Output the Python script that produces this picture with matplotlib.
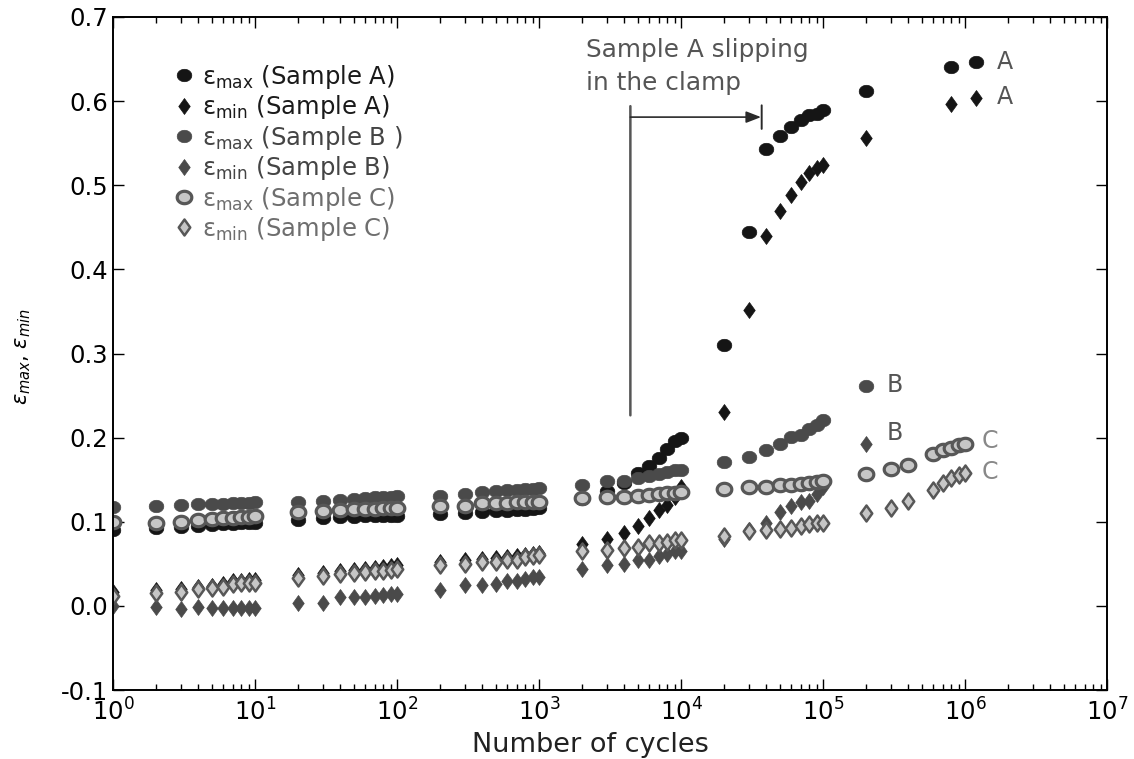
import matplotlib
matplotlib.use("Agg")
import matplotlib.pyplot as plt
import numpy as np
from matplotlib.path import Path
from matplotlib.lines import Line2D
from matplotlib.ticker import FormatStrFormatter, NullFormatter, LogFormatterSciNotation

# ---------------- data ----------------
cycles_main = [1, 2, 3, 4, 5, 6, 7, 8, 9, 10,
               20, 30, 40, 50, 60, 70, 80, 90, 100,
               200, 300, 400, 500, 600, 700, 800, 900, 1000,
               2000, 3000, 4000, 5000, 6000, 7000, 8000, 9000, 10000,
               20000, 30000, 40000, 50000, 60000, 70000, 80000, 90000, 100000]
cycles_A_tail = [2e5, 8e5, 1.2e6]
cycles_B_tail = [2e5]
cycles_C_tail = [2e5, 3e5, 4e5, 6e5, 7e5, 8e5, 9e5, 1e6]

emax_A = [0.090, 0.092, 0.094, 0.095, 0.096, 0.097, 0.097, 0.098, 0.098, 0.099,
          0.102, 0.105, 0.106, 0.106, 0.107, 0.107, 0.107, 0.107, 0.107,
          0.109, 0.110, 0.112, 0.113, 0.113, 0.114, 0.114, 0.115, 0.116,
          0.127, 0.136, 0.146, 0.158, 0.166, 0.176, 0.186, 0.196, 0.200,
          0.310, 0.445, 0.543, 0.558, 0.569, 0.577, 0.583, 0.585, 0.589,
          0.612, 0.641, 0.646]
emin_A = [0.016, 0.019, 0.020, 0.023, 0.024, 0.026, 0.029, 0.030, 0.031, 0.031,
          0.037, 0.039, 0.042, 0.043, 0.044, 0.045, 0.046, 0.047, 0.048,
          0.052, 0.054, 0.056, 0.057, 0.058, 0.059, 0.061, 0.062, 0.063,
          0.073, 0.079, 0.087, 0.095, 0.104, 0.114, 0.120, 0.129, 0.141,
          0.230, 0.352, 0.440, 0.469, 0.489, 0.504, 0.514, 0.520, 0.524,
          0.556, 0.597, 0.604]
emax_B = [0.118, 0.119, 0.120, 0.121, 0.121, 0.121, 0.122, 0.122, 0.122, 0.123,
          0.123, 0.125, 0.126, 0.127, 0.128, 0.129, 0.129, 0.130, 0.131,
          0.131, 0.133, 0.135, 0.137, 0.138, 0.138, 0.139, 0.139, 0.140,
          0.144, 0.148, 0.149, 0.152, 0.154, 0.157, 0.159, 0.161, 0.162,
          0.171, 0.177, 0.185, 0.193, 0.201, 0.203, 0.210, 0.215, 0.221,
          0.261]
emin_B = [0.000, -0.001, -0.004, -0.001, -0.002, -0.002, -0.002, -0.002, -0.002, -0.002,
          0.003, 0.004, 0.010, 0.010, 0.011, 0.012, 0.013, 0.014, 0.014,
          0.019, 0.025, 0.025, 0.026, 0.029, 0.030, 0.032, 0.034, 0.034,
          0.044, 0.048, 0.050, 0.054, 0.055, 0.059, 0.062, 0.065, 0.065,
          0.080, 0.090, 0.099, 0.111, 0.119, 0.123, 0.125, 0.133, 0.141,
          0.193]
emax_C = [0.100, 0.099, 0.100, 0.102, 0.103, 0.104, 0.105, 0.106, 0.106, 0.107,
          0.111, 0.113, 0.114, 0.115, 0.115, 0.115, 0.116, 0.116, 0.116,
          0.119, 0.119, 0.122, 0.122, 0.122, 0.123, 0.123, 0.124, 0.124,
          0.128, 0.129, 0.130, 0.131, 0.132, 0.133, 0.134, 0.134, 0.135,
          0.139, 0.141, 0.141, 0.144, 0.144, 0.145, 0.146, 0.147, 0.148,
          0.157, 0.163, 0.168, 0.181, 0.185, 0.188, 0.191, 0.192]
emin_C = [0.012, 0.015, 0.016, 0.020, 0.021, 0.023, 0.026, 0.027, 0.027, 0.027,
          0.033, 0.035, 0.038, 0.039, 0.040, 0.041, 0.042, 0.043, 0.044,
          0.048, 0.050, 0.052, 0.052, 0.054, 0.055, 0.058, 0.059, 0.060,
          0.065, 0.066, 0.069, 0.070, 0.075, 0.075, 0.076, 0.078, 0.078,
          0.083, 0.089, 0.090, 0.091, 0.093, 0.095, 0.097, 0.098, 0.099,
          0.110, 0.116, 0.125, 0.138, 0.146, 0.152, 0.155, 0.158]

legend_labels = [r"$\mathregular{ε_{max}}$ (Sample A)",
                 r"$\mathregular{ε_{min}}$ (Sample A)",
                 r"$\mathregular{ε_{max}}$ (Sample B )",
                 r"$\mathregular{ε_{min}}$ (Sample B)",
                 r"$\mathregular{ε_{max}}$ (Sample C)",
                 r"$\mathregular{ε_{min}}$ (Sample C)"]
xticks = [1, 10, 100, 1000, 1e4, 1e5, 1e6, 1e7]
yticks = [-0.1, 0.0, 0.1, 0.2, 0.3, 0.4, 0.5, 0.6, 0.7]
annot_text = "Sample A slipping\nin the clamp"

# ---------------- styles ----------------
t = np.linspace(0, 2 * np.pi, 60)
ellipse = Path(np.column_stack([np.cos(t), 0.85 * np.sin(t)]), closed=True)
diamond = Path([(0, 1), (0.72, 0), (0, -1), (-0.72, 0), (0, 1)],
               [Path.MOVETO, Path.LINETO, Path.LINETO, Path.LINETO, Path.CLOSEPOLY])

colA, colB = "#151515", "#4a4a4a"
colC_face, colC_edge = "#c6c6c6", "#575757"
circ_ms, diam_ms = 10.5, 11.5

series = [
    (cycles_main + cycles_A_tail, emax_A, dict(marker=ellipse, ms=circ_ms, mfc=colA, mec=colA, mew=0.5)),
    (cycles_main + cycles_A_tail, emin_A, dict(marker=diamond, ms=diam_ms, mfc=colA, mec=colA, mew=0.5)),
    (cycles_main + cycles_B_tail, emax_B, dict(marker=ellipse, ms=circ_ms, mfc=colB, mec=colB, mew=0.5)),
    (cycles_main + cycles_B_tail, emin_B, dict(marker=diamond, ms=diam_ms, mfc=colB, mec=colB, mew=0.5)),
    (cycles_main + cycles_C_tail, emax_C, dict(marker=ellipse, ms=circ_ms, mfc=colC_face, mec=colC_edge, mew=2.3)),
    (cycles_main + cycles_C_tail, emin_C, dict(marker=diamond, ms=diam_ms, mfc=colC_face, mec=colC_edge, mew=1.8)),
]

fig = plt.figure(figsize=(11.34, 7.59), dpi=100)
ax = fig.add_axes([113 / 1134, 69 / 759, 994 / 1134, 673 / 759])

handles = []
for xs, ys, st in series:
    ax.plot(xs, ys, linestyle="none", **st)
    handles.append(Line2D([], [], linestyle="none", **st))

ax.set_xscale("log")
ax.set_xlim(1, 1e7)
ax.set_ylim(-0.1, 0.7)
ax.set_xticks(xticks)
ax.xaxis.set_major_formatter(LogFormatterSciNotation())
ax.xaxis.set_minor_formatter(NullFormatter())
ax.set_yticks(yticks)
ax.yaxis.set_major_formatter(FormatStrFormatter("%.1f"))
ax.tick_params(which="both", direction="in", top=True, right=True, labelsize=17.5)
ax.tick_params(which="major", length=8, width=1)
ax.tick_params(which="minor", length=4.5, width=1)
ax.tick_params(axis="x", pad=6)
for s in ax.spines.values():
    s.set_linewidth(1.4)

ax.set_xlabel("Number of cycles", fontsize=19.5, color="#222222")
ax.xaxis.set_label_coords(0.48, -0.062)
ax.set_ylabel(r"$\epsilon_{max}$, $\epsilon_{min}$", fontsize=15)
ax.yaxis.set_label_coords(-0.08, 0.495)

# legend
leg = ax.legend(handles, legend_labels, loc="upper left", bbox_to_anchor=(0.048, 0.95),
                frameon=False, handlelength=0.9, handletextpad=0.3, labelspacing=0.1,
                borderpad=0, prop=dict(size=17.5))
leg_colors = ["#1a1a1a", "#1a1a1a", "#444444", "#444444", "#6e6e6e", "#6e6e6e"]
for txt, c in zip(leg.get_texts(), leg_colors):
    txt.set_color(c)

# annotation
ax.text(2150, 0.675, annot_text, fontsize=17.8, color="#555555",
        va="top", ha="left", linespacing=1.45)
ax.annotate("", xy=(4400, 0.2265), xytext=(4400, 0.594),
            arrowprops=dict(arrowstyle="-", color="#555555", lw=1.8, shrinkA=0, shrinkB=0))
ax.annotate("", xy=(36600, 0.581), xytext=(4400, 0.581),
            arrowprops=dict(arrowstyle="-|>,head_length=0.9,head_width=0.35", color="#2a2a2a",
                            lw=1.2, shrinkA=0, shrinkB=0))
ax.annotate("", xy=(37000, 0.567), xytext=(37000, 0.595),
            arrowprops=dict(arrowstyle="-", color="#2a2a2a", lw=1.4, shrinkA=0, shrinkB=0))

# sample labels
lab_kw = dict(fontsize=17, va="center", ha="left")
ax.text(1.68e6, 0.646, "A", color="#555555", **lab_kw)
ax.text(1.68e6, 0.605, "A", color="#555555", **lab_kw)
ax.text(2.82e5, 0.262, "B", color="#555555", **lab_kw)
ax.text(2.82e5, 0.205, "B", color="#555555", **lab_kw)
ax.text(1.32e6, 0.196, "C", color="#888888", **lab_kw)
ax.text(1.32e6, 0.159, "C", color="#888888", **lab_kw)

fig.savefig("out.png", dpi=100, facecolor="white")
